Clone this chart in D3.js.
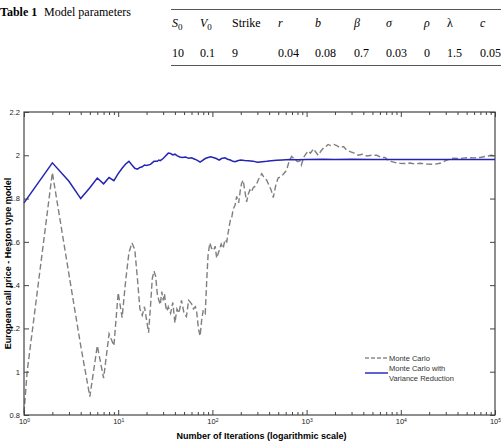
<!DOCTYPE html>
<html>
<head>
<meta charset="utf-8">
<script src="https://cdn.jsdelivr.net/npm/d3@7"></script>
<style>
  body { margin: 0; background: #fff; }
  svg { display: block; }
</style>
</head>
<body>
<svg width="501" height="442"></svg>
<script>
// table 1
const paramNames = ["S", "V", "Strike", "r", "b", "β", "σ", "ρ", "λ", "c"];
const paramSubs = ["0", "0", "", "", "", "", "", "", "", ""];
const paramValues = ["10", "0.1", "9", "0.04", "0.08", "0.7", "0.03", "0", "1.5", "0.05"];

// chart: [iterations, price]
const monteCarlo = [
    [1, 0.81], [1.08, 1.0], [2, 1.92], [3, 1.45], [4, 1.12], [5, 0.885], [6, 1.12], [7, 0.97],
    [8, 1.175], [9, 1.12], [10, 1.365], [11, 1.25], [12, 1.42], [13, 1.55], [14, 1.595],
    [15, 1.565], [16, 1.43], [17, 1.29], [18, 1.26], [19, 1.3], [20, 1.24], [21, 1.18],
    [22, 1.3], [23, 1.43], [24, 1.465], [25, 1.44], [26, 1.36], [27, 1.33], [28, 1.31],
    [29, 1.37], [30, 1.33], [31, 1.36], [32, 1.3], [33, 1.28], [34, 1.3], [36, 1.27],
    [38, 1.32], [40, 1.225], [42, 1.29], [44, 1.27], [47, 1.33], [50, 1.27], [53, 1.255],
    [56, 1.33], [60, 1.315], [63, 1.29], [66, 1.3], [68, 1.28], [71, 1.2], [74, 1.165],
    [77, 1.24], [80, 1.285], [84, 1.27], [87, 1.42], [90, 1.54], [94, 1.595], [98, 1.57],
    [103, 1.56], [107, 1.58], [111, 1.525], [118, 1.56], [124, 1.59], [130, 1.57],
    [136, 1.61], [142, 1.6], [148, 1.65], [155, 1.7], [160, 1.71], [166, 1.75], [174, 1.77],
    [181, 1.81], [190, 1.78], [198, 1.84], [204, 1.87], [212, 1.885], [220, 1.84],
    [231, 1.785], [240, 1.82], [250, 1.84], [260, 1.83], [271, 1.85], [290, 1.86],
    [310, 1.89], [334, 1.915], [350, 1.9], [377, 1.885], [400, 1.86], [420, 1.84],
    [443, 1.805], [470, 1.86], [498, 1.895], [530, 1.9], [560, 1.91], [612, 1.93],
    [650, 1.97], [693, 1.995], [740, 1.985], [800, 1.97], [850, 1.975], [880, 1.955],
    [930, 1.99], [980, 2.005], [1040, 2.02], [1100, 2.01], [1180, 2.03], [1250, 2.015],
    [1330, 2.0], [1420, 2.02], [1520, 2.035], [1600, 2.04], [1690, 2.05], [1800, 2.045],
    [1950, 2.05], [2090, 2.045], [2250, 2.035], [2470, 2.04], [2650, 2.025], [2900, 2.017],
    [3200, 2.01], [3530, 2.0], [3900, 2.005], [4350, 1.997], [4900, 2.0], [5560, 2.0],
    [6200, 1.99], [6830, 1.99], [7400, 1.975], [8040, 1.971], [9000, 1.965], [9800, 1.963],
    [11000, 1.962], [12500, 1.964], [14000, 1.96], [16000, 1.963], [19000, 1.96],
    [22200, 1.958], [26100, 1.963], [30700, 1.978], [35800, 1.986], [42000, 1.985],
    [50000, 1.989], [60000, 1.988], [70000, 1.99], [80000, 1.995], [92000, 2.0], [100000, 1.995]
];
const varianceReduced = [
    [1, 1.78], [2, 1.965], [3, 1.88], [4, 1.8], [5, 1.85], [6, 1.895], [7, 1.868], [8, 1.897],
    [9, 1.883], [10, 1.915], [11, 1.94], [12, 1.96], [13, 1.972], [14, 1.955], [15, 1.94],
    [16, 1.936], [17, 1.944], [18, 1.947], [19, 1.955], [20, 1.953], [22, 1.958],
    [24, 1.972], [26, 1.972], [27, 1.978], [28, 1.975], [30, 1.985], [32, 1.998], [34, 2.01],
    [36, 2.008], [38, 2.002], [40, 2.005], [42, 1.998], [45, 1.992], [48, 1.99], [52, 1.992],
    [56, 1.986], [60, 1.988], [65, 1.982], [70, 1.975], [74, 1.968], [78, 1.975], [84, 1.985],
    [90, 1.99], [96, 1.993], [102, 1.99], [110, 1.985], [118, 1.978], [125, 1.985],
    [136, 1.988], [145, 1.982], [155, 1.978], [165, 1.972], [174, 1.97], [185, 1.975],
    [200, 1.978], [220, 1.976], [240, 1.975], [270, 1.973], [300, 1.968], [340, 1.97],
    [377, 1.972], [420, 1.975], [480, 1.977], [550, 1.978], [660, 1.98], [800, 1.979],
    [1000, 1.981], [1500, 1.982], [2000, 1.981], [3000, 1.982], [5000, 1.981], [8000, 1.98],
    [12000, 1.981], [20000, 1.98], [35000, 1.98], [60000, 1.98], [100000, 1.98]
];
const xDomain = [1, 1e5];
const yDomain = [0.8, 2.2];
const yTicks = [0.8, 1, 1.2, 1.4, 1.6, 1.8, 2, 2.2];
const legendLabels = [["Monte Carlo"], ["Monte Carlo with", "Variance Reduction"]];
const xLabel = "Number of Iterations (logarithmic scale)";
const yLabel = "European call price - Heston type model";

// layout
const plot = { left: 24, right: 495, top: 112, bottom: 415 };
const colX = [172, 200, 232, 278, 315, 354, 386, 424, 447, 480];
const serif = "'Liberation Serif', 'DejaVu Serif', serif";
const sans = "'Liberation Sans', Arial, sans-serif";
const frameColor = "#444";

const svg = d3.select("svg");

const table = selection => {
    selection.append("text")
        .attr("x", 0).attr("y", 16)
        .style("font", `bold 12px ${serif}`)
        .text("Table 1");
    selection.append("text")
        .attr("x", 44).attr("y", 16)
        .style("font", `12px ${serif}`)
        .text("Model parameters");
    selection.selectAll(".rule")
        .data([9.5, 65.5])
        .join("line")
        .attr("class", "rule")
        .attr("x1", 171).attr("x2", 501)
        .attr("y1", d => d).attr("y2", d => d)
        .attr("stroke", "#555").attr("stroke-width", 1);
    let head = selection.selectAll(".head")
        .data(paramNames)
        .join("text")
        .attr("class", "head")
        .attr("x", (d, i) => colX[i]).attr("y", 27)
        .style("font", `12px ${serif}`)
        .style("font-style", d => d === "Strike" || d === "λ" ? "normal" : "italic");
    head.append("tspan").text(d => d);
    head.append("tspan")
        .attr("dy", 3)
        .style("font-size", "9px")
        .style("font-style", "normal")
        .text((d, i) => paramSubs[i]);
    selection.selectAll(".val")
        .data(paramValues)
        .join("text")
        .attr("class", "val")
        .attr("x", (d, i) => colX[i]).attr("y", 57)
        .style("font", `12px ${serif}`)
        .text(d => d);
}

const x = d3.scaleLog(xDomain, [plot.left, plot.right]);
const y = d3.scaleLinear(yDomain, [plot.bottom, plot.top]);
const allXTicks = x.ticks();
const majorX = allXTicks.filter(d => Number.isInteger(Math.log10(d)));
const minorX = allXTicks.filter(d => !Number.isInteger(Math.log10(d)));

const styleAxis = g => {
    g.select(".domain").remove();
    g.selectAll(".tick line").attr("stroke", frameColor);
    g.selectAll(".tick text")
        .attr("fill", "#222")
        .style("font", `7.5px ${sans}`);
}

const axes = selection => {
    selection.append("g")
        .attr("transform", `translate(0,${plot.bottom})`)
        .call(d3.axisBottom(x).tickValues(majorX).tickSize(-5).tickPadding(4).tickFormat(() => ""))
        .call(styleAxis)
        .call(g => g.selectAll(".tick text")
            .call(t => t.append("tspan").text("10"))
            .append("tspan")
            .attr("dy", "-0.5em")
            .style("font-size", "5px")
            .text(d => Math.log10(d)));
    selection.append("g")
        .attr("transform", `translate(0,${plot.bottom})`)
        .call(d3.axisBottom(x).tickValues(minorX).tickSize(-3).tickFormat(() => ""))
        .call(styleAxis);
    selection.append("g")
        .attr("transform", `translate(0,${plot.top})`)
        .call(d3.axisTop(x).tickValues(majorX).tickSize(-5).tickFormat(() => ""))
        .call(styleAxis);
    selection.append("g")
        .attr("transform", `translate(0,${plot.top})`)
        .call(d3.axisTop(x).tickValues(minorX).tickSize(-3).tickFormat(() => ""))
        .call(styleAxis);
    selection.append("g")
        .attr("transform", `translate(${plot.left},0)`)
        .call(d3.axisLeft(y).tickValues(yTicks).tickSize(-5).tickPadding(4).tickFormat(d3.format("~g")))
        .call(styleAxis);
    selection.append("g")
        .attr("transform", `translate(${plot.right},0)`)
        .call(d3.axisRight(y).tickValues(yTicks).tickSize(-5).tickFormat(() => ""))
        .call(styleAxis);
    selection.append("rect")
        .attr("x", plot.left).attr("y", plot.top)
        .attr("width", plot.right - plot.left)
        .attr("height", plot.bottom - plot.top)
        .attr("fill", "none")
        .attr("stroke", frameColor)
        .attr("stroke-width", 1.2);
    selection.append("text")
        .attr("x", (plot.left + plot.right) / 2 + 2).attr("y", 439)
        .attr("text-anchor", "middle")
        .style("font", `bold 9px ${sans}`)
        .text(xLabel);
    selection.append("text")
        .attr("transform", `translate(11,${(plot.top + plot.bottom) / 2}) rotate(-90)`)
        .attr("text-anchor", "middle")
        .style("font", `bold 9px ${sans}`)
        .text(yLabel);
}

const series = [
    { data: monteCarlo, stroke: "#7f7f7f", dash: "6 3", width: 1.4, legendStroke: "#8c8c8c" },
    { data: varianceReduced, stroke: "#2424b4", dash: null, width: 1.5, legendStroke: "#6060d8" }
];

const lines = selection => {
    let line = d3.line()
        .x(d => x(d[0]))
        .y(d => y(d[1]));
    selection.selectAll(".series")
        .data(series)
        .join("path")
        .attr("class", "series")
        .attr("fill", "none")
        .attr("stroke", d => d.stroke)
        .attr("stroke-width", d => d.width)
        .attr("stroke-dasharray", d => d.dash)
        .attr("d", d => line(d.data));
}

const legend = selection => {
    let item = selection.selectAll(".legend-item")
        .data(series)
        .join("g")
        .attr("class", "legend-item")
        .attr("transform", (d, i) => `translate(365,${358 + i * 15})`);
    item.append("line")
        .attr("x1", 0).attr("x2", 23)
        .attr("stroke", d => d.legendStroke)
        .attr("stroke-width", d => d.dash ? 1.3 : 2)
        .attr("stroke-dasharray", d => d.dash ? "4 2" : null);
    item.append("text")
        .attr("x", 24)
        .attr("y", (d, i) => -(legendLabels[i].length - 1) * 4.5 + 2.7)
        .style("font", `7.5px ${sans}`)
        .attr("fill", "#333")
        .selectAll("tspan")
        .data((d, i) => legendLabels[i])
        .join("tspan")
        .attr("x", 24)
        .attr("dy", (d, j) => j ? 9.5 : 0)
        .text(d => d);
}

svg.append("g").call(table);
svg.append("g").call(lines);
svg.append("g").call(axes);
svg.append("g").call(legend);
</script>
</body>
</html>
